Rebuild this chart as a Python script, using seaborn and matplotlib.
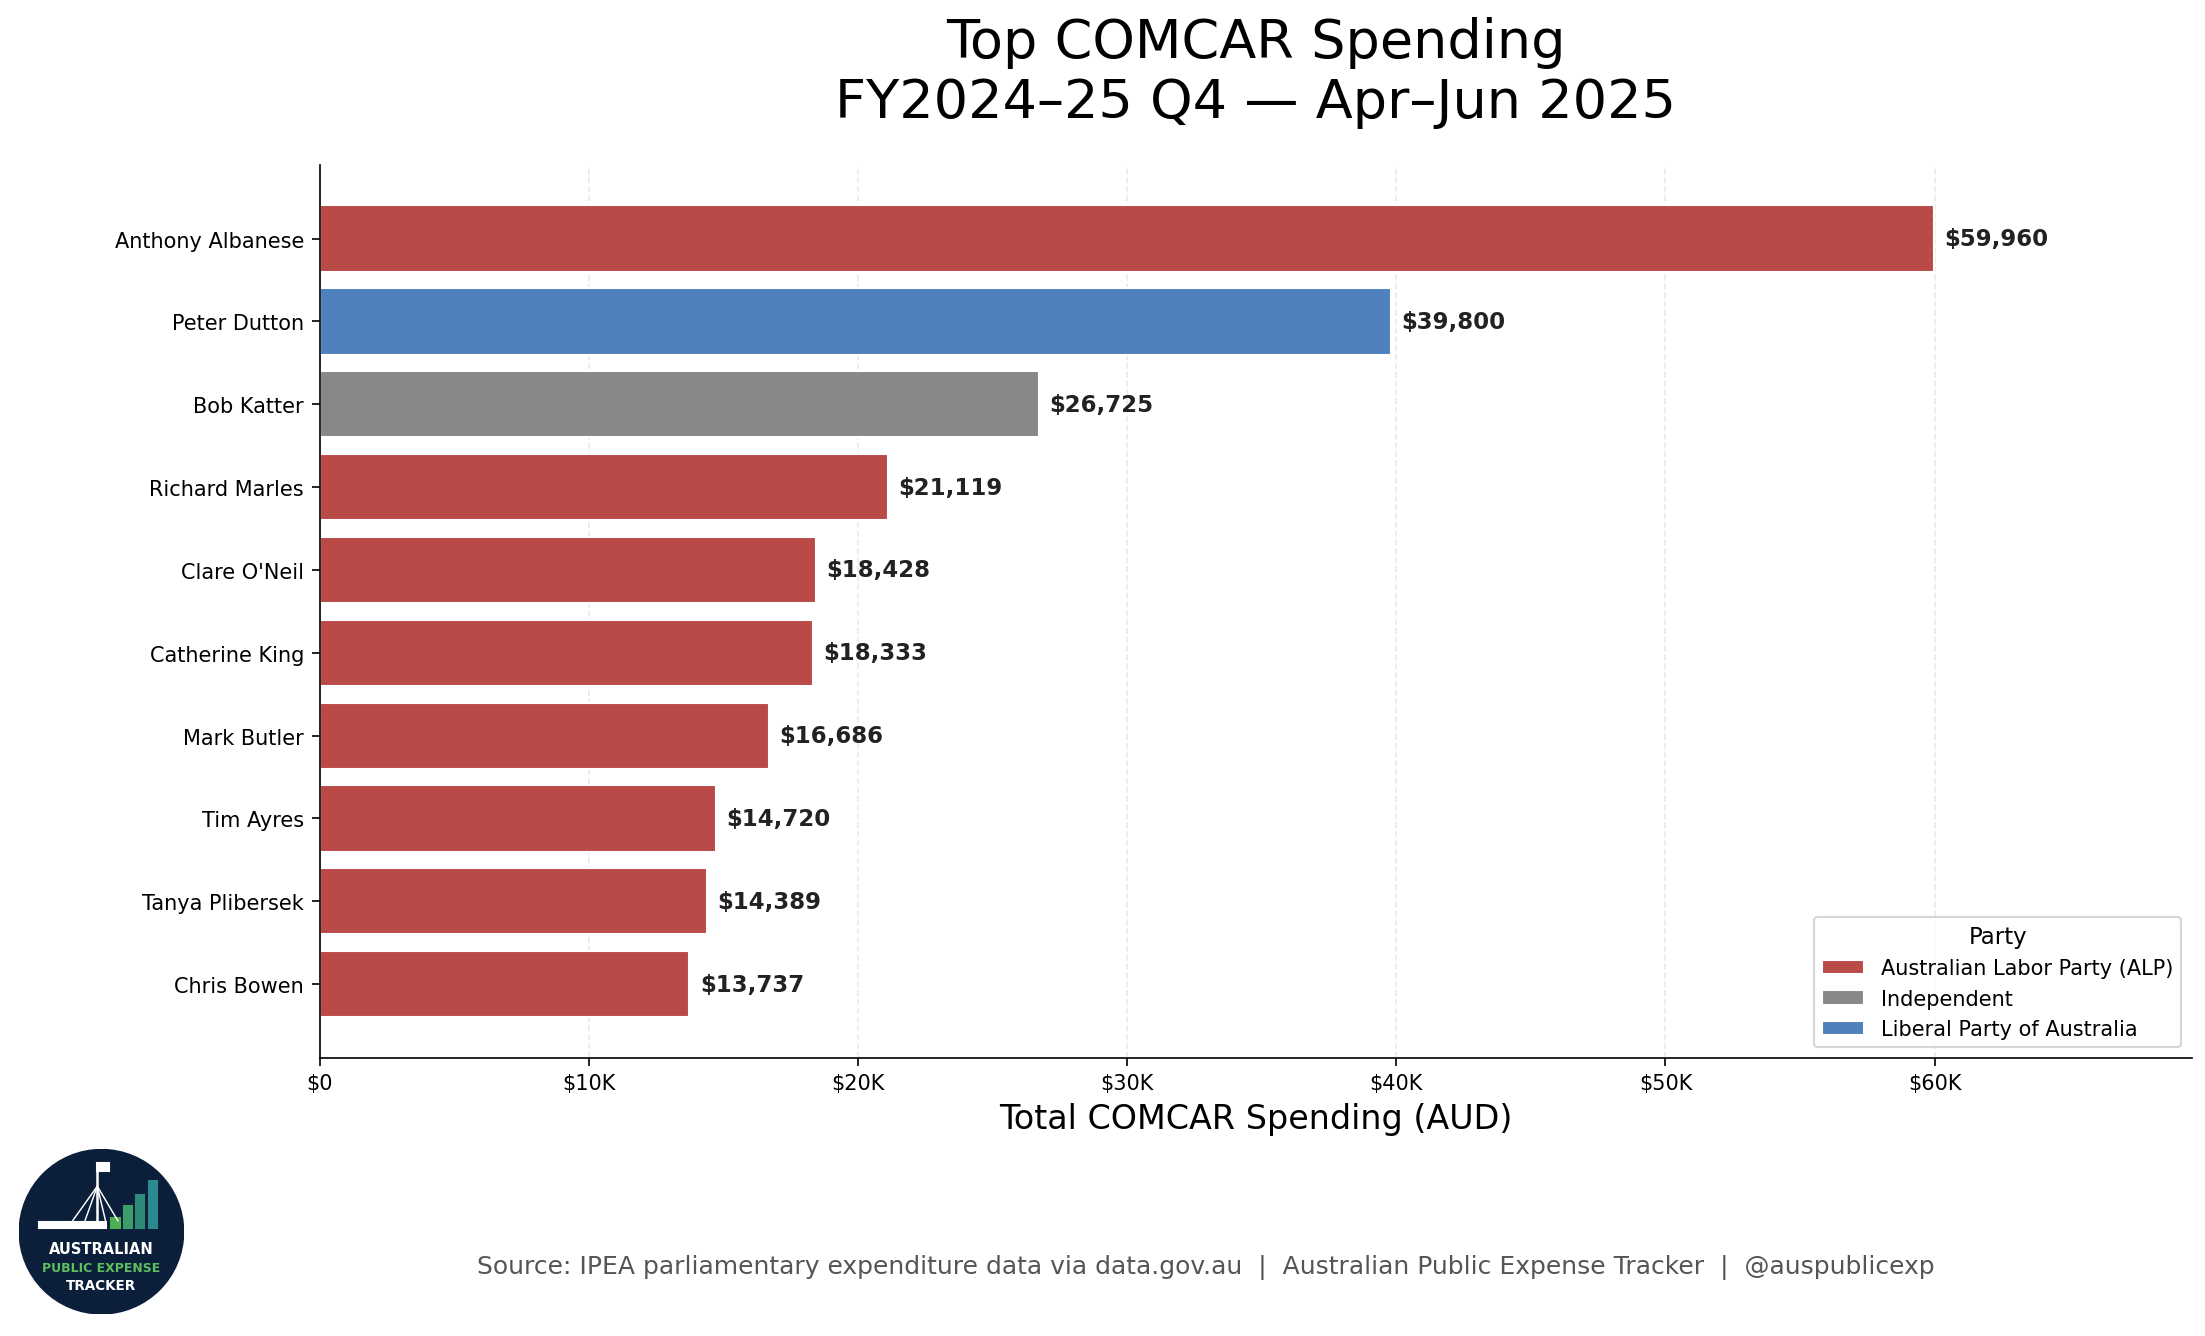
import matplotlib
matplotlib.use("Agg")
import matplotlib.pyplot as plt
import matplotlib.patches as mpatches
import pandas as pd
import seaborn as sns
from matplotlib.ticker import FuncFormatter

names = ["Anthony Albanese", "Peter Dutton", "Bob Katter", "Richard Marles",
         "Clare O'Neil", "Catherine King", "Mark Butler", "Tim Ayres",
         "Tanya Plibersek", "Chris Bowen"]
spend = [59960, 39800, 26725, 21119, 18428, 18333, 16686, 14720, 14389, 13737]
party = ["Australian Labor Party (ALP)", "Liberal Party of Australia", "Independent",
         "Australian Labor Party (ALP)", "Australian Labor Party (ALP)",
         "Australian Labor Party (ALP)", "Australian Labor Party (ALP)",
         "Australian Labor Party (ALP)", "Australian Labor Party (ALP)",
         "Australian Labor Party (ALP)"]
party_colors = {
    "Australian Labor Party (ALP)": "#B94A48",
    "Independent": "#888888",
    "Liberal Party of Australia": "#4F81BD",
}

df = pd.DataFrame({"name": names, "spend": spend, "party": party})

sns.set_style("white")
plt.rcParams["font.family"] = ["DejaVu Sans"]
plt.rcParams["text.color"] = "black"
plt.rcParams["axes.labelcolor"] = "black"
plt.rcParams["xtick.color"] = "black"
plt.rcParams["ytick.color"] = "black"
plt.rcParams["axes.edgecolor"] = "black"

fig = plt.figure(figsize=(14.7, 8.913), dpi=150)
ax = fig.add_axes([0.145, 0.208, 0.849, 0.668])

sns.barplot(data=df, x="spend", y="name", hue="party",
            hue_order=sorted(party_colors), palette=party_colors,
            dodge=False, width=0.8, saturation=1, ax=ax)

ax.set_xlim(0, max(spend) * 1.16)
ax.set_ylim(len(names) - 1 + 0.89, -0.89)
ax.xaxis.set_major_formatter(FuncFormatter(lambda v, p: "$0" if v == 0 else f"${v/1000:.0f}K"))
ax.grid(axis="x", linestyle="--", alpha=0.3, color="#bbbbbb")
ax.set_axisbelow(True)
sns.despine(ax=ax)
ax.tick_params(axis="both", labelsize=10, length=4, left=True, bottom=True)
ax.set_ylabel("")
ax.set_xlabel("Total COMCAR Spending (AUD)", fontsize=16)

for i, v in enumerate(spend):
    ax.annotate(f"${v:,.0f}", (v, i), xytext=(5, 0), textcoords="offset points",
                va="center", ha="left", fontsize=11, fontweight="bold", color="#222222")

ax.legend(title="Party", loc="lower right", fontsize=10, title_fontsize=11)

ax.set_title("Top COMCAR Spending\nFY2024\u201325 Q4 \u2014 Apr\u2013Jun 2025",
             fontsize=26, pad=23)

fig.text(0.547, 0.052,
         "Source: IPEA parliamentary expenditure data via data.gov.au  |  Australian Public Expense Tracker  |  @auspublicexp",
         ha="center", va="center", fontsize=12, color="#555555")

# logo
lax = fig.add_axes([0.0085, 0.016, 0.075, 0.124])
lax.set_xlim(-1, 1)
lax.set_ylim(-1, 1)
lax.set_aspect("equal")
lax.axis("off")
lax.add_patch(mpatches.Circle((0, 0), 0.99, color="#0B1F3A"))
for bx, bh, bc in [(0.12, 0.12, "#4CAF50"), (0.27, 0.26, "#3E9B6A"),
                   (0.42, 0.4, "#2E8B7A"), (0.57, 0.56, "#2A8A8F")]:
    lax.add_patch(mpatches.Rectangle((bx, 0.05), 0.1, bh, color=bc))
lax.add_patch(mpatches.Rectangle((-0.75, 0.05), 0.8, 0.07, color="white"))
lax.plot([-0.05, -0.05], [0.1, 0.8], color="white", lw=1.2)
for dx in [-0.35, -0.2, 0.05, 0.2]:
    lax.plot([-0.05, dx], [0.55, 0.13], color="white", lw=0.7)
lax.add_patch(mpatches.Rectangle((-0.05, 0.74), 0.14, 0.09, color="white"))
lax.text(0, -0.2, "AUSTRALIAN", ha="center", va="center", fontsize=7, color="white", fontweight="bold")
lax.text(0, -0.43, "PUBLIC EXPENSE", ha="center", va="center", fontsize=6, color="#5CC05C", fontweight="bold")
lax.text(0, -0.65, "TRACKER", ha="center", va="center", fontsize=6.5, color="white", fontweight="bold")

fig.savefig("out.png", dpi=150)
